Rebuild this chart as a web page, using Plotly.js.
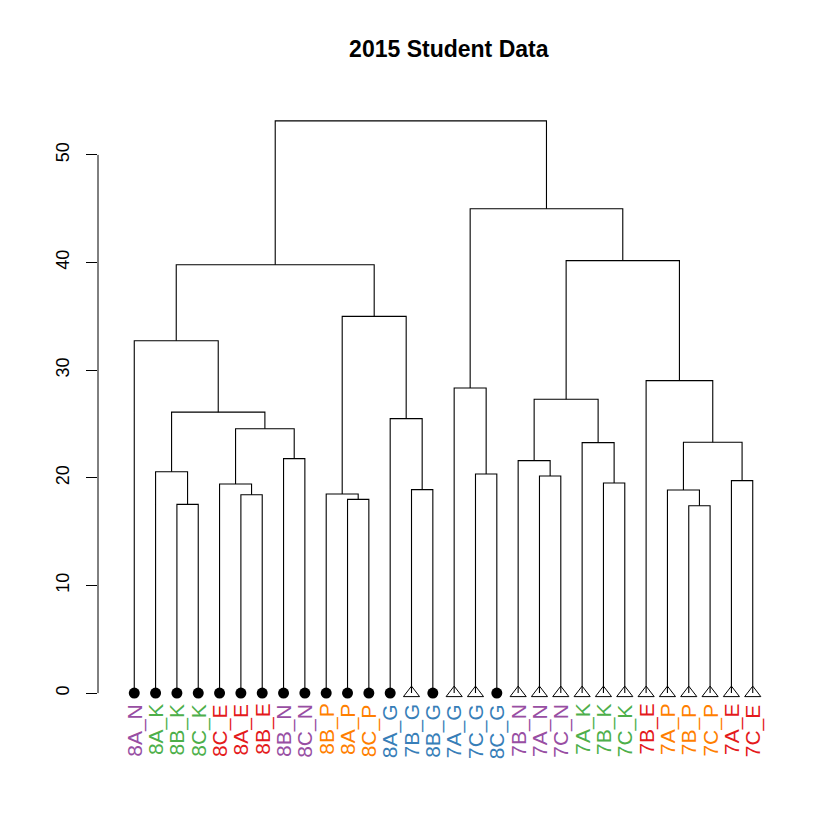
<!DOCTYPE html>
<html>
<head>
<meta charset="utf-8">
<script src="https://cdn.plot.ly/plotly-3.0.1.min.js"></script>
<style>html,body{margin:0;padding:0;background:#fff;}#chart{width:840px;height:840px;}</style>
</head>
<body>
<div id="chart"></div>
<script>
// Leaf labels in dendrogram order
const leafLabels = ["8A_N","8A_K","8B_K","8C_K","8C_E","8A_E","8B_E","8B_N","8C_N","8B_P","8A_P","8C_P","8A_G","7B_G","8B_G","7A_G","7C_G","8C_G","7B_N","7A_N","7C_N","7A_K","7B_K","7C_K","7B_E","7A_P","7B_P","7C_P","7A_E","7C_E"];
// Subject group of each leaf (colour)
const leafGroup = ["N","K","K","K","E","E","E","N","N","P","P","P","G","G","G","G","G","G","N","N","N","K","K","K","E","P","P","P","E","E"];
// Grade of each leaf (marker)
const leafGrade = [8,8,8,8,8,8,8,8,8,8,8,8,8,7,8,7,7,8,7,7,7,7,7,7,7,7,7,7,7,7];
const groupColors = {N:"#984EA3", K:"#4DAF4A", E:"#E41A1C", P:"#FF7F00", G:"#377EB8"};
const gradeSymbols = {8:"circle", 7:"triangle-up-open"};
const gradeSizes = {8:11, 7:14};

// Merge table (hclust style): negative = leaf index (1-based), positive = earlier merge step
const mergeLeft  = [-27,-3,-11,-6,-10,-26,-14,-5,-23,-29,-20,-17,-2,-19,-8,-22, 6, 8,-13,13,14,-16,-25,-1, 5,24,21,22,26];
const mergeRight = [-28,-4,-12,-7,  3,  1,-15, 4,-24,-30,-21,-18, 2, 11,-9,  9,10,15,  7,18,16, 12, 17,20,19,25,23,27,28];
const mergeHeight = [17.41,17.53,18.0,18.43,18.5,18.87,18.9,19.42,19.52,19.74,20.17,20.35,20.57,21.6,21.78,23.27,23.3,24.56,25.5,26.1,27.3,28.35,29.03,32.74,35.0,39.8,40.18,45.0,53.16];

const yTicks = [0,10,20,30,40,50];

// Build segment coordinates
const nodeX = [], nodeH = [];
function childPos(id){
  if (id < 0) return [(-id), 0];
  return [nodeX[id-1], nodeH[id-1]];
}
const segX = [], segY = [];
for (let i = 0; i < mergeLeft.length; i++){
  const [xl, hl] = childPos(mergeLeft[i]);
  const [xr, hr] = childPos(mergeRight[i]);
  const h = mergeHeight[i];
  segX.push(xl, xl, xr, xr, null);
  segY.push(hl, h, h, hr, null);
  nodeX.push((xl + xr) / 2);
  nodeH.push(h);
}

const n = leafLabels.length;
const leafX = leafLabels.map((_, i) => i + 1);
const yTop = Math.max(...mergeHeight);

const traces = [
  {x: segX, y: segY, type: "scatter", mode: "lines", line: {color: "#000", width: 1.1}, hoverinfo: "skip", showlegend: false, connectgaps: false}
];
[8, 7].forEach(g => {
  const xs = leafX.filter((_, i) => leafGrade[i] === g);
  traces.push({x: xs, y: xs.map(() => 0), type: "scatter", mode: "markers",
    marker: {symbol: gradeSymbols[g], size: gradeSizes[g], color: "#000", opacity: 1, line: {color: "#000", width: g === 7 ? 1 : 0}},
    hoverinfo: "skip", showlegend: false, cliponaxis: false});
});

const annotations = leafLabels.map((lab, i) => ({
  x: i + 1, xref: "x", y: 0, yref: "paper", yshift: 14,
  text: lab, showarrow: false, textangle: -90,
  xanchor: "center", yanchor: "top",
  font: {family: "Liberation Sans, Arial, sans-serif", size: 21, color: groupColors[leafGroup[i]]}
}));

const layout = {
  width: 840, height: 840,
  margin: {l: 98, r: 51, t: 98, b: 124, pad: 0},
  paper_bgcolor: "#fff", plot_bgcolor: "#fff",
  font: {family: "Liberation Sans, Arial, sans-serif", color: "#000"},
  title: {text: "<b>2015 Student Data</b>", font: {size: 23, family: "Liberation Sans, Arial, sans-serif", color: "#000"},
          x: 0.5343, xanchor: "center", xref: "container", y: 1 - 49/840, yanchor: "middle", yref: "container"},
  xaxis: {range: [0.5 - 0.04 * n, n + 0.5 + 0.04 * n], showgrid: false, zeroline: false, showline: false,
          showticklabels: false, ticks: "", fixedrange: true},
  yaxis: {range: [-0.04 * yTop, 1.04 * yTop], showgrid: false, zeroline: false, showline: false,
          tickvals: yTicks, ticktext: yTicks.map(String), ticks: "outside", ticklen: 11, tickwidth: 1, tickcolor: "#000",
          ticklabelstandoff: 10,
          tickangle: -90, tickfont: {size: 18, family: "Liberation Sans, Arial, sans-serif", color: "#000"}, fixedrange: true},
  shapes: [{type: "line", xref: "paper", x0: 0, x1: 0, yref: "y", y0: yTicks[0], y1: yTicks[yTicks.length - 1],
            line: {color: "#000", width: 1}}],
  annotations: annotations
};

Plotly.newPlot("chart", traces, layout, {displayModeBar: false, staticPlot: true});
</script>
</body>
</html>
